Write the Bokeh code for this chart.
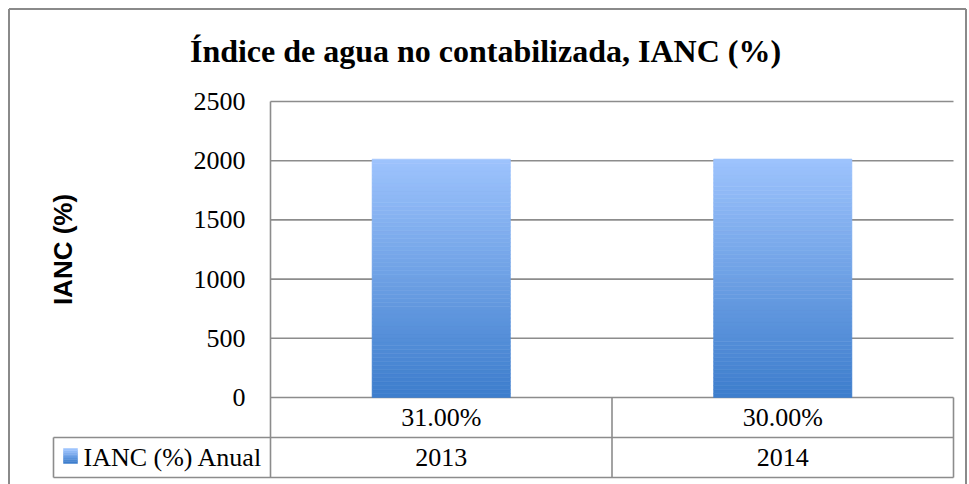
import math
from bokeh.plotting import figure
from bokeh.models import Range1d, LinearAxis, FixedTicker, Label, ColumnDataSource
from bokeh.core.properties import value
from bokeh.embed import file_html
from bokeh.resources import INLINE

# ---------------- data ----------------
title_text = "Índice de agua no contabilizada, IANC (%)"
y_axis_title = "IANC (%)"
series_name = "IANC (%) Anual"
categories = ["31.00%", "30.00%"]
values = [2013, 2014]
y_ticks = [0, 500, 1000, 1500, 2000, 2500]

# ---------------- geometry helpers (page pixels -> data units) ----------------
W, H = 969, 484
PX_X = 341.5            # px per category
PX_Y = 296.0 / 2500.0   # px per value unit
X0_PAGE, Y0_PAGE = 270.0, 397.0   # page position of (0, 0)


def dx(px):
    return (px - X0_PAGE) / PX_X


def dy(py):
    return (Y0_PAGE - py) / PX_Y


x_start, x_end = dx(0), dx(W)
y_end, y_start = dy(0), dy(H)

SERIF = value("Liberation Serif")
GRID = "#8c8c8c"

p = figure(width=W, height=H, output_backend="svg", toolbar_location=None,
           x_range=Range1d(x_start, x_end), y_range=Range1d(y_start, y_end),
           x_axis_type=None, y_axis_type=None,
           min_border_left=0, min_border_right=0, min_border_top=0, min_border_bottom=0)
p.xgrid.visible = False
p.ygrid.visible = False
p.outline_line_color = None
p.background_fill_color = "white"
p.border_fill_color = "white"

n_cat = len(categories)
xc = [i + 0.5 for i in range(n_cat)]

# outer chart border (top, left, right)
bl, br, bt_ = dx(8.5), dx(965.5), dy(8.5)
p.segment(x0=[bl, bl, br], y0=[bt_, y_start, y_start],
          x1=[br, bl, br], y1=[bt_, bt_, bt_],
          line_color="#8a8a8a", line_width=2)

# gridlines
p.segment(x0=[0] * len(y_ticks), x1=[n_cat] * len(y_ticks), y0=y_ticks, y1=y_ticks,
          line_color=GRID, line_width=1.6)

# table geometry
row1_bot = dy(437)
row2_bot = dy(477)
leg_left = dx(53)
row1_mid = dy(417)
row2_mid = dy(457)

# table lines
p.segment(x0=[0, leg_left, leg_left] + [float(i + 1) for i in range(n_cat)] + [leg_left],
          y0=[y_ticks[-1], row1_bot, row2_bot] + [0] * n_cat + [row1_bot],
          x1=[0, n_cat, n_cat] + [float(i + 1) for i in range(n_cat)] + [leg_left],
          y1=[row2_bot, row1_bot, row2_bot] + [row2_bot] * n_cat + [row2_bot],
          line_color=GRID, line_width=1.6)

# gradient bars
top_rgb = (157, 195, 253)
bot_rgb = (62, 126, 205)


def shade(f):
    return "#%02x%02x%02x" % tuple(int(b + (t - b) * f) for b, t in zip(bot_rgb, top_rgb))


N = 60
bx, bb, bt, bc = [], [], [], []
for xi, v in zip(xc, values):
    for k in range(N):
        bx.append(xi)
        bb.append(v * k / N)
        bt.append(v * (k + 1) / N)
        bc.append(shade(k / (N - 1)))
src = ColumnDataSource(dict(x=bx, bottom=bb, top=bt, color=bc))
p.vbar(x="x", bottom="bottom", top="top", width=0.405, fill_color="color",
       line_color="color", line_width=0.6, source=src)

# table texts
p.text(x=xc, y=[row1_mid] * n_cat, text=categories, text_font=SERIF,
       text_font_size="26px", text_align="center", text_baseline="middle", text_color="black")
p.text(x=xc, y=[row2_mid] * n_cat, text=[str(v) for v in values], text_font=SERIF,
       text_font_size="26px", text_align="center", text_baseline="middle", text_color="black")

# legend key (small gradient square) and series name
key_l, key_r = dx(63), dx(77)
key_top, key_bot = dy(448), dy(463)
NK = 8
kt, kb, kc = [], [], []
for k in range(NK):
    kb.append(key_bot + (key_top - key_bot) * k / NK)
    kt.append(key_bot + (key_top - key_bot) * (k + 1) / NK)
    kc.append(shade(k / (NK - 1)))
p.quad(left=[key_l] * NK, right=[key_r] * NK, bottom=kb, top=kt, fill_color=kc, line_color=kc,
       line_width=0.5)
p.text(x=[dx(83)], y=[row2_mid], text=[series_name], text_font=SERIF, text_font_size="26px",
       text_align="left", text_baseline="middle", text_color="black")

# y axis inside the frame at x = 0
yaxis = LinearAxis(fixed_location=0, ticker=FixedTicker(ticks=y_ticks))
yaxis.axis_line_color = None
yaxis.major_tick_line_color = None
yaxis.minor_tick_line_color = None
yaxis.major_tick_out = 0
yaxis.major_tick_in = 0
yaxis.major_label_standoff = 25
yaxis.major_label_text_font = "Liberation Serif"
yaxis.major_label_text_font_size = "26px"
yaxis.major_label_text_color = "black"
p.add_layout(yaxis, "left")

# y axis title
p.add_layout(Label(x=dx(62), y=dy(249), text=y_axis_title, angle=math.pi / 2,
                   text_font="Liberation Sans", text_font_style="bold", text_font_size="26px",
                   text_align="center", text_baseline="middle", text_color="black"))

# chart title
p.add_layout(Label(x=dx(485), y=dy(50), text=title_text, text_font="Liberation Serif",
                   text_font_style="bold", text_font_size="32px", text_align="center",
                   text_baseline="middle", text_color="black"))

open("out.html", "w").write(file_html(p, INLINE))
